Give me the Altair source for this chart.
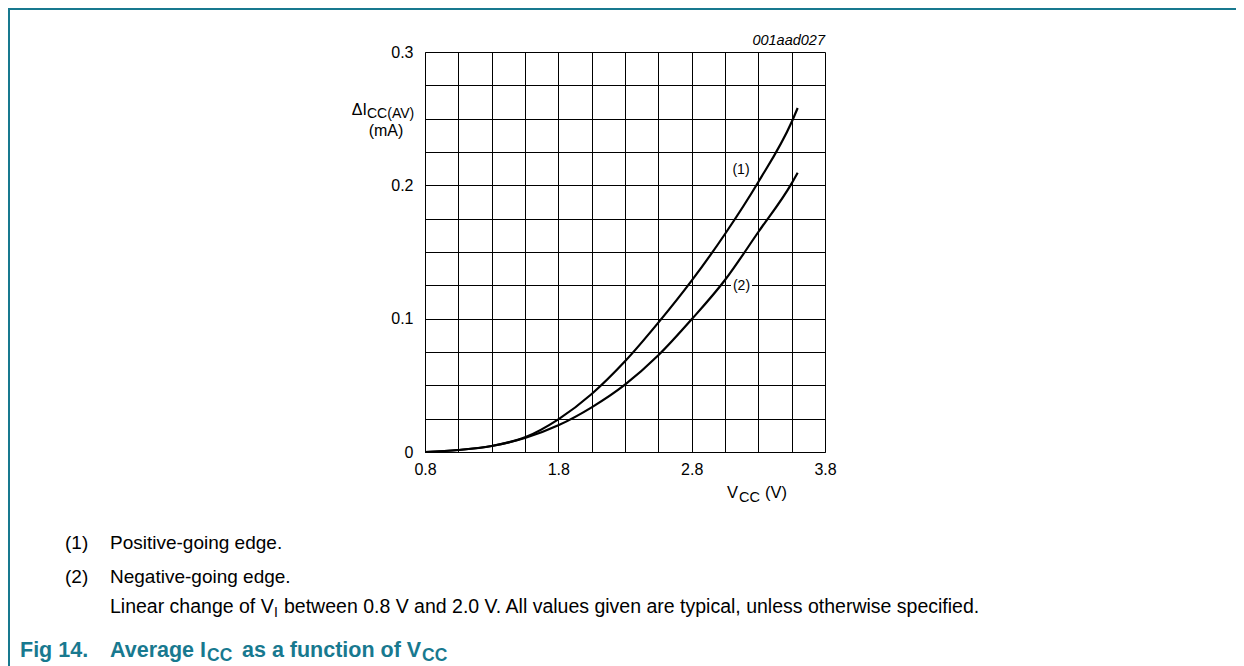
import altair as alt
import pandas as pd

# ---- data ----
# Curve (1): positive-going edge
vcc_pos = [0.8, 1.05, 1.3, 1.55, 1.8, 2.05, 2.3, 2.55, 2.8, 3.05, 3.3, 3.55, 3.595]
icc_pos = [0.0, 0.0015, 0.0045, 0.011, 0.0245, 0.0435, 0.068, 0.097, 0.1285, 0.1635, 0.2025, 0.2475, 0.258]
# Curve (2): negative-going edge
vcc_neg = [0.8, 1.05, 1.3, 1.55, 1.8, 2.05, 2.3, 2.55, 2.8, 3.05, 3.3, 3.55, 3.595]
icc_neg = [0.0, 0.0015, 0.0045, 0.0105, 0.020, 0.0335, 0.0505, 0.0725, 0.0995, 0.129, 0.165, 0.2015, 0.2095]
series_names = ["(1)", "(2)"]

x_grid = [0.8, 1.05, 1.3, 1.55, 1.8, 2.05, 2.3, 2.55, 2.8, 3.05, 3.3, 3.55, 3.8]
y_grid = [0.0, 0.025, 0.05, 0.075, 0.1, 0.125, 0.15, 0.175, 0.2, 0.225, 0.25, 0.275, 0.3]

FONT = "Liberation Sans"
TEAL = "#18798f"
OX, OY = 425, 52  # page position of plot origin

df = pd.DataFrame({
    "vcc": vcc_pos + vcc_neg,
    "icc": icc_pos + icc_neg,
    "series": [series_names[0]] * len(vcc_pos) + [series_names[1]] * len(vcc_neg),
})
one = pd.DataFrame({"a": [0]})

x_label_expr = ("abs((datum.value - 0.8) - round(datum.value - 0.8)) < 0.01 "
                "? format(datum.value, '.1f') : ''")
y_label_expr = ("abs(datum.value * 10 - round(datum.value * 10)) < 0.01 "
                "? (datum.value < 0.001 ? '0' : format(datum.value, '.1f')) : ''")

lines = alt.Chart(df).mark_line(color="black", strokeWidth=2.2, interpolate="monotone").encode(
    x=alt.X("vcc:Q",
            scale=alt.Scale(domain=[0.8, 3.8], nice=False, zero=False),
            axis=alt.Axis(values=x_grid, labelExpr=x_label_expr, grid=True, gridColor="black",
                          gridWidth=1, gridOpacity=1, ticks=False, tickSize=0,
                          domainColor="black", domainWidth=1,
                          labelFont=FONT, labelFontSize=16, labelColor="black",
                          labelPadding=9, labelFlush=False, labelOverlap=False, title=None)),
    y=alt.Y("icc:Q",
            scale=alt.Scale(domain=[0, 0.3], nice=False, zero=True),
            axis=alt.Axis(values=y_grid, labelExpr=y_label_expr, grid=True, gridColor="black",
                          gridWidth=1, gridOpacity=1, ticks=False, tickSize=0,
                          domainColor="black", domainWidth=1,
                          labelFont=FONT, labelFontSize=16, labelColor="black",
                          labelPadding=12, labelFlush=False, labelOverlap=False, title=None)),
    detail="series:N",
)


def txt(s, x, y, size=16, align="left", baseline="alphabetic", weight="normal",
        style="normal", color="black"):
    return alt.Chart(one).mark_text(
        text=s, align=align, baseline=baseline, fontSize=size, font=FONT,
        fontWeight=weight, fontStyle=style, color=color
    ).encode(x=alt.value(x - OX), y=alt.value(y - OY))


# white patch behind label (2) that interrupts the grid line
patch = alt.Chart(one).mark_rect(color="white").encode(
    x=alt.value(731 - OX), x2=alt.value(752 - OX),
    y=alt.value(278 - OY), y2=alt.value(295 - OY))

# frame of the figure (left and top edges)
frame_left = alt.Chart(one).mark_rule(color=TEAL, strokeWidth=2).encode(
    x=alt.value(9 - OX), y=alt.value(8 - OY), y2=alt.value(666 - OY))
frame_top = alt.Chart(one).mark_rule(color=TEAL, strokeWidth=2).encode(
    x=alt.value(8 - OX), x2=alt.value(1236 - OX), y=alt.value(9 - OY))

texts = [
    txt("001aad027", 825, 45, size=14.5, align="right", style="italic"),
    # y title
    txt("\u0394I", 367, 115, size=16, align="right"),
    txt("CC(AV)", 367, 118, size=14),
    txt("(mA)", 386, 136, size=16, align="center"),
    # curve labels
    txt("(1)", 741, 170, size=14, align="center", baseline="middle"),
    txt("(2)", 741.5, 286, size=14, align="center", baseline="middle"),
    # x title
    txt("V", 727, 498, size=16.5),
    txt("CC", 739, 502, size=14.5),
    txt("(V)", 765, 498, size=16.5),
    # notes
    txt("(1)", 65, 549, size=19),
    txt("Positive-going edge.", 110, 549, size=19),
    txt("(2)", 65, 583, size=19),
    txt("Negative-going edge.", 110, 583, size=19),
    txt("Linear change of V", 110, 613, size=19.5),
    txt("I", 274, 617, size=14),
    txt("between 0.8 V and 2.0 V. All values given are typical, unless otherwise specified.",
        284, 613, size=19.5),
    # figure title
    txt("Fig 14.", 20, 657, size=21.5, weight="bold", color=TEAL),
    txt("Average I", 110, 657, size=21.5, weight="bold", color=TEAL),
    txt("CC", 207, 661, size=17.5, weight="bold", color=TEAL),
    txt("as a function of V", 242, 657, size=21.5, weight="bold", color=TEAL),
    txt("CC", 422, 661, size=17.5, weight="bold", color=TEAL),
]

chart = alt.layer(lines, patch, frame_left, frame_top, *texts).properties(
    width=400, height=400,
    autosize=alt.AutoSizeParams(type="none"),
    padding={"left": 417, "top": 44, "right": 411, "bottom": 214},
).configure_view(stroke=None)

chart.save("out.html", embed_options={"renderer": "svg", "actions": False})
